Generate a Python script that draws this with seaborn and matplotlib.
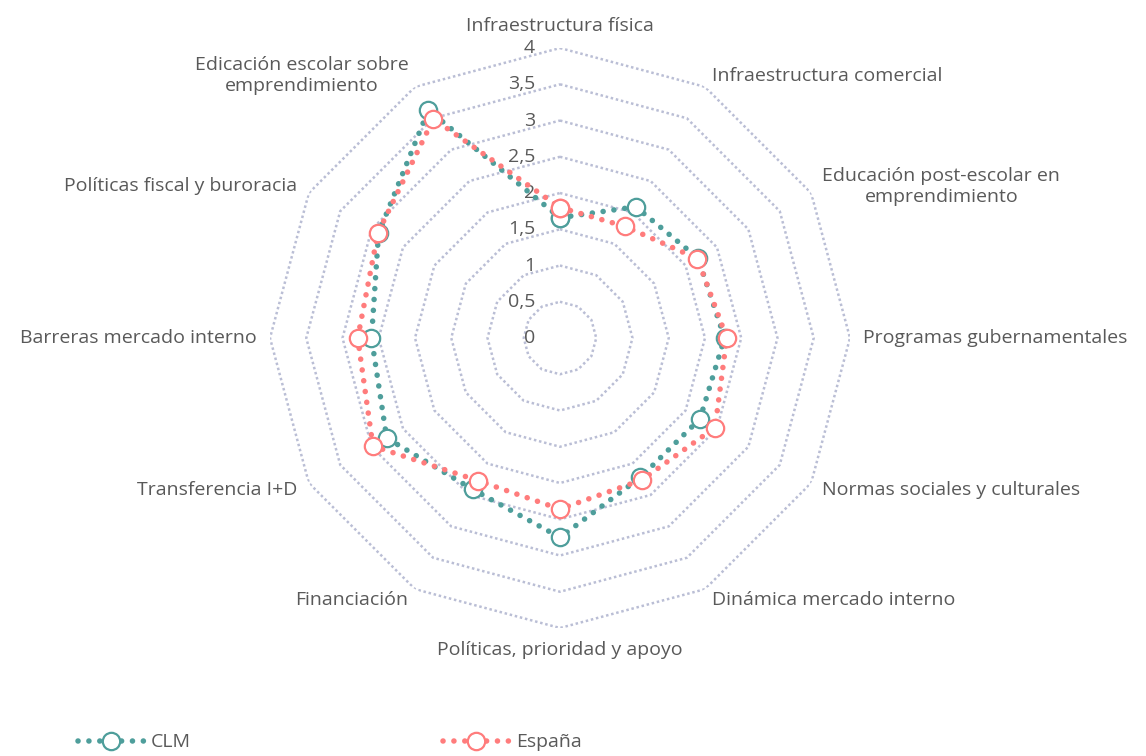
import numpy as np
import pandas as pd
import matplotlib
matplotlib.use('Agg')
import matplotlib.pyplot as plt
import matplotlib.transforms as mtransforms
import seaborn as sns

# categories, clockwise from the top
categorias = ['Infraestructura física', 'Infraestructura comercial',
              'Educación post-escolar en\nemprendimiento', 'Programas gubernamentales',
              'Normas sociales y culturales', 'Dinámica mercado interno',
              'Políticas, prioridad y apoyo', 'Financiación', 'Transferencia I+D',
              'Barreras mercado interno', 'Políticas fiscal y buroracia',
              'Edicación escolar sobre\nemprendimiento']
clm = [1.66, 2.09, 2.20, 2.27, 2.23, 2.22, 2.75, 2.41, 2.76, 2.60, 2.89, 3.63]
espana = [1.80, 1.78, 2.19, 2.30, 2.47, 2.26, 2.36, 2.27, 2.98, 2.79, 2.90, 3.49]
ticks = [0, 0.5, 1, 1.5, 2, 2.5, 3, 3.5, 4]
tick_labels = ['0', '0,5', '1', '1,5', '2', '2,5', '3', '3,5', '4']

TEXT = '#595959'
GRID = '#BABED5'
C_CLM = '#4E9E9B'
C_ESP = '#FF7C7C'

sns.set_style('white')
plt.rcParams['font.family'] = ['Open Sans', 'DejaVu Sans']
FS = 14

n = len(categorias)
theta = np.linspace(0, 2 * np.pi, n, endpoint=False)
theta_c = np.append(theta, theta[0])

fig = plt.figure(figsize=(11.46, 7.56), dpi=100)
ax = fig.add_axes([0.2356, 0.1693, 0.5061, 0.7672], projection='polar')
ax.set_theta_zero_location('N')
ax.set_theta_direction(-1)
ax.set_ylim(0, 4)
ax.grid(False)
ax.spines['polar'].set_visible(False)

# polygonal rings
for t in ticks[1:]:
    ax.plot(theta_c, [t] * len(theta_c), color=GRID, lw=1.8,
            linestyle=(0, (1, 1.1)), zorder=1)

# radial tick labels
off = mtransforms.offset_copy(ax.transData, fig=fig, x=-25, y=0, units='dots')
for t, lab in zip(ticks, tick_labels):
    ax.text(0, t, lab, transform=off, ha='right', va='center',
            fontsize=FS, color=TEXT)

# category labels
for th, lab in zip(theta, categorias):
    s = np.sin(th)
    c = np.cos(th)
    if abs(s) < 1e-6:
        ha = 'center'
        va = 'bottom' if c > 0 else 'top'
    else:
        ha = 'left' if s > 0 else 'right'
        va = 'center'
    ax.text(th, 4.18, lab, ha=ha, va=va, multialignment='center',
            fontsize=FS, color=TEXT)

ls = (0, (0.01, 1.95))
for name, vals, col in [('CLM', clm, C_CLM), ('España', espana, C_ESP)]:
    df = pd.DataFrame({'theta': theta_c, 'valor': vals + [vals[0]]})
    sns.lineplot(data=df, x='theta', y='valor', ax=ax, sort=False, estimator=None,
                 color=col, lw=4.0, linestyle=ls, dash_capstyle='round',
                 marker='o', markersize=12.5, markerfacecolor='white',
                 markeredgecolor=col, markeredgewidth=1.6, label=name, zorder=3)
ax.set_xlabel('')
ax.set_ylabel('')
ax.set_ylim(0, 4)
ax.set_xticks([])
ax.set_yticks([])
if ax.get_legend() is not None:
    ax.get_legend().remove()

handles, labels = ax.get_legend_handles_labels()
leg = fig.legend(handles, labels, loc='center left', bbox_to_anchor=(0.053, 0.018),
                 ncol=2, frameon=False, fontsize=FS, handlelength=3.4,
                 handletextpad=0.35, columnspacing=12.95, numpoints=1)
for txt in leg.get_texts():
    txt.set_color(TEXT)

fig.savefig('out.png', dpi=100)
